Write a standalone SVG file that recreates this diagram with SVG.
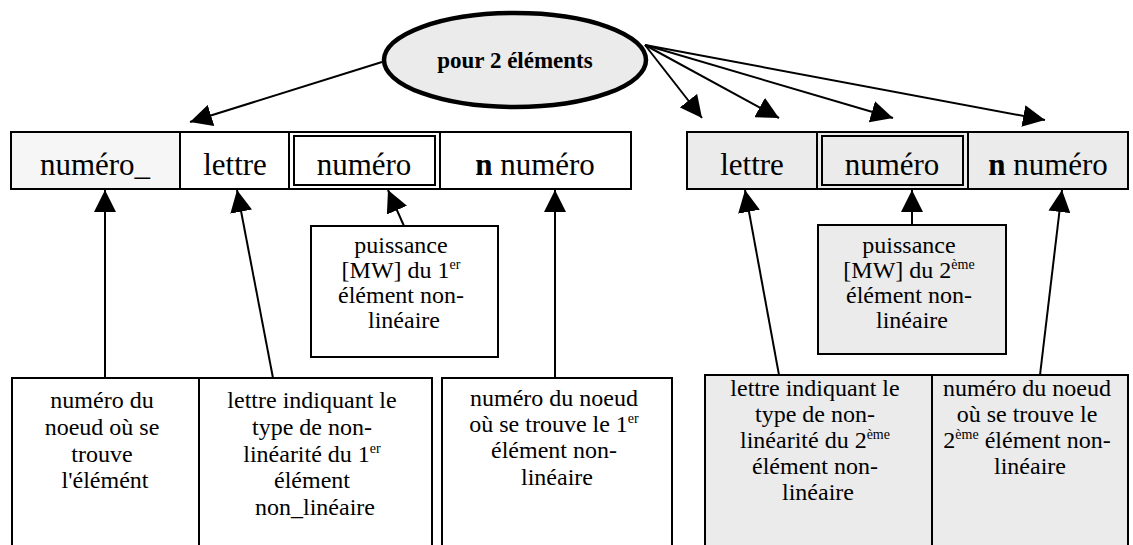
<svg xmlns="http://www.w3.org/2000/svg" width="1133" height="545" viewBox="0 0 1133 545">
<style>
.bx{fill:#fff;stroke:#000;stroke-width:2}
.gr{fill:#ebebeb;stroke:#000;stroke-width:2}
.lt{fill:#f6f6f6;stroke:#000;stroke-width:2}
.in{fill:none;stroke:#000;stroke-width:2}
.t{font-family:"Liberation Serif","Times New Roman",serif;fill:#000;text-anchor:middle}
.big{font-size:31px}
.sm{font-size:24px}
.sup{font-size:14px}
.con line{stroke:#000;stroke-width:2;marker-end:url(#ah)}
</style>
<defs>
<marker id="ah" markerUnits="userSpaceOnUse" markerWidth="24" markerHeight="22" refX="22" refY="11" orient="auto">
<path d="M0,0 L22,11 L0,22 Z" fill="#000"/>
</marker>
</defs>
<rect width="1133" height="545" fill="#fff"/>

<g id="root">
<ellipse cx="515" cy="60" rx="131" ry="47" fill="#ebebeb" stroke="#000" stroke-width="4.5"/>
<text class="t" x="515" y="68" font-size="23" font-weight="bold">pour 2 éléments</text>
</g>

<g id="row1-numero">
<rect class="lt" x="11" y="132" width="169" height="57"/>
<text class="t big" x="95" y="175">numéro_</text>
</g>
<g id="row1-lettre">
<rect class="bx" x="180" y="132" width="109" height="57"/>
<text class="t big" x="235" y="175">lettre</text>
</g>
<g id="row1-puis">
<rect class="bx" x="289" y="132" width="151" height="57"/>
<rect class="in" x="294" y="136" width="141" height="49"/>
<text class="t big" x="364" y="175">numéro</text>
</g>
<g id="row1-n">
<rect class="bx" x="440" y="132" width="191" height="57"/>
<text class="t big" x="535" y="175"><tspan font-weight="bold">n</tspan> numéro</text>
</g>

<g id="row2-lettre">
<rect class="gr" x="687" y="132" width="130" height="57"/>
<text class="t big" x="752" y="175">lettre</text>
</g>
<g id="row2-puis">
<rect class="gr" x="817" y="132" width="151" height="57"/>
<rect class="in" x="822" y="136" width="141" height="49"/>
<text class="t big" x="892" y="175">numéro</text>
</g>
<g id="row2-n">
<rect class="gr" x="968" y="132" width="160" height="57"/>
<text class="t big" x="1048" y="175"><tspan font-weight="bold">n</tspan> numéro</text>
</g>

<g id="puis1">
<rect class="bx" x="311" y="226" width="187" height="131"/>
<text class="t sm">
<tspan x="404" y="253">puissance</tspan>
<tspan x="404" y="278">[MW] du 1<tspan class="sup" dy="-9">er</tspan></tspan>
<tspan x="404" y="303">élément non-</tspan>
<tspan x="404" y="328">linéaire</tspan>
</text>
</g>
<g id="puis2">
<rect class="gr" x="818" y="225" width="188" height="129"/>
<text class="t sm">
<tspan x="912" y="253">puissance</tspan>
<tspan x="912" y="278">[MW] du 2<tspan class="sup" dy="-9">ème</tspan></tspan>
<tspan x="912" y="303">élément non-</tspan>
<tspan x="912" y="328">linéaire</tspan>
</text>
</g>

<g id="desc1">
<rect class="bx" x="12" y="378" width="187" height="175"/>
<text class="t sm">
<tspan x="105" y="408">numéro du</tspan>
<tspan x="105" y="435">noeud où se</tspan>
<tspan x="105" y="462">trouve</tspan>
<tspan x="105" y="488">l'élémént</tspan>
</text>
</g>
<g id="desc2">
<rect class="bx" x="199" y="378" width="233" height="175"/>
<text class="t sm">
<tspan x="315" y="408">lettre indiquant le</tspan>
<tspan x="315" y="435">type de non-</tspan>
<tspan x="315" y="462">linéarité du 1<tspan class="sup" dy="-9">er</tspan></tspan>
<tspan x="315" y="488">élément</tspan>
<tspan x="315" y="515">non_linéaire</tspan>
</text>
</g>
<g id="desc3">
<rect class="bx" x="442" y="378" width="230" height="175"/>
<text class="t sm">
<tspan x="557" y="406">numéro du noeud</tspan>
<tspan x="557" y="432">où se trouve le 1<tspan class="sup" dy="-9">er</tspan></tspan>
<tspan x="557" y="458">élément non-</tspan>
<tspan x="557" y="485">linéaire</tspan>
</text>
</g>
<g id="desc4">
<rect class="gr" x="705" y="375" width="227" height="178"/>
<text class="t sm">
<tspan x="818" y="396">lettre indiquant le</tspan>
<tspan x="818" y="422">type de non-</tspan>
<tspan x="818" y="448">linéarité du 2<tspan class="sup" dy="-9">ème</tspan></tspan>
<tspan x="818" y="474">élément non-</tspan>
<tspan x="818" y="500">linéaire</tspan>
</text>
</g>
<g id="desc5">
<rect class="gr" x="932" y="375" width="196" height="178"/>
<text class="t sm">
<tspan x="1030" y="396">numéro du noeud</tspan>
<tspan x="1030" y="422">où se trouve le</tspan>
<tspan x="1030" y="448">2<tspan class="sup" dy="-9">ème</tspan><tspan dy="9"> élément non-</tspan></tspan>
<tspan x="1030" y="474">linéaire</tspan>
</text>
</g>

<g id="connectors" class="con">
<line x1="382" y1="62" x2="190" y2="122"/>
<line x1="645" y1="45" x2="702" y2="118"/>
<line x1="645" y1="45" x2="779" y2="118"/>
<line x1="645" y1="45" x2="893" y2="118"/>
<line x1="645" y1="45" x2="1045" y2="120"/>
<line x1="105" y1="378" x2="105" y2="190"/>
<line x1="273" y1="378" x2="237" y2="190"/>
<line x1="555" y1="378" x2="555" y2="190"/>
<line x1="404" y1="226" x2="388" y2="190"/>
<line x1="912" y1="225" x2="912" y2="190"/>
<line x1="779" y1="375" x2="745" y2="190"/>
<line x1="1040" y1="375" x2="1062" y2="190"/>
</g>
</svg>
